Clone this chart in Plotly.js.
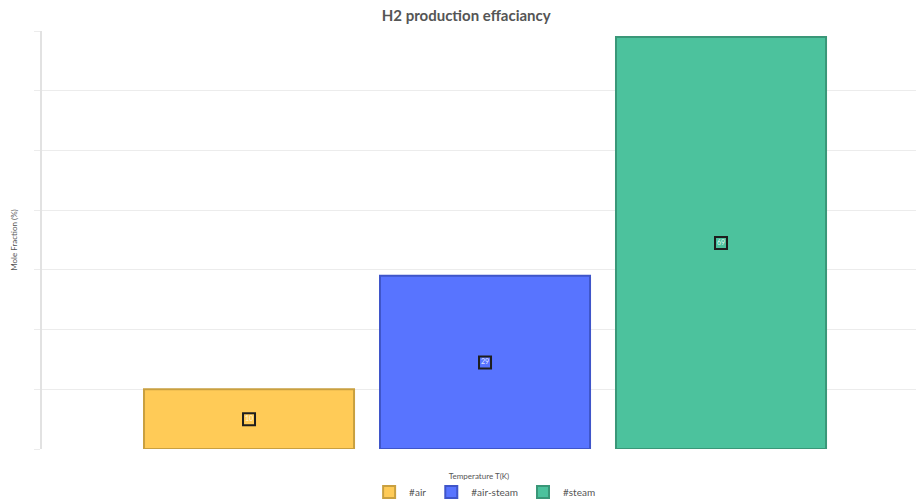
<!DOCTYPE html>
<html>
<head>
<meta charset="utf-8">
<script src="https://cdn.plot.ly/plotly-3.0.1.min.js"></script>
<style>html,body{margin:0;padding:0;background:#fff;}#chart{width:916px;height:502px;}</style>
</head>
<body>
<div id="chart"></div>
<script>
const category = ["Temperature T(K)"];
const seriesNames = ["#air", "#air-steam", "#steam"];
const seriesValues = [10, 29, 69];
const fillColors = ["#FFCB57", "#5874FF", "#4CC29D"];
const lineColors = ["#C9A040", "#3F55C9", "#3A9778"];

const traces = [];
seriesNames.forEach((name, i) => {
  traces.push({
    type: "bar",
    name: name,
    x: category,
    y: [seriesValues[i]],
    offsetgroup: String(i),
    marker: {color: fillColors[i], line: {color: lineColors[i], width: 2}},
    hoverinfo: "name+y"
  });
});
seriesNames.forEach((name, i) => {
  traces.push({
    type: "scatter",
    mode: "markers+text",
    name: name,
    showlegend: false,
    x: category,
    y: [seriesValues[i] / 2],
    offsetgroup: String(i),
    text: [String(seriesValues[i])],
    textposition: "middle center",
    textfont: {family: "Lato, sans-serif", size: 7, color: "rgba(255,255,255,0.85)"},
    marker: {symbol: "square", size: 12, color: fillColors[i], line: {color: "#1e1e1e", width: 2}},
    hoverinfo: "skip"
  });
});

const layout = {
  width: 916, height: 502,
  margin: {l: 42, r: 0, t: 31, b: 53, autoexpand: false},
  paper_bgcolor: "#fff", plot_bgcolor: "#fff",
  font: {family: "Lato, sans-serif", color: "#555"},
  title: {text: "<b>H2 production effaciancy</b>", font: {size: 15, color: "#555"}, x: 0.509, xref: "container", xanchor: "center", y: 0.968, yanchor: "middle"},
  barmode: "group",
  scattermode: "group",
  bargap: 0.2,
  scattergap: 0.2,
  bargroupgap: 0.11,
  showlegend: true,
  legend: {orientation: "h", x: 0.507, xanchor: "center", y: -0.068, yanchor: "top", font: {size: 10, color: "#555"}, traceorder: "normal", itemwidth: 30},
  xaxis: {
    type: "category",
    range: [-0.5006, 0.487],
    automargin: false,
    showticklabels: false,
    showgrid: false,
    zeroline: false,
    showline: false,
    ticks: "",
    title: {text: "Temperature T(K)", font: {size: 8, color: "#555"}, standoff: 24}
  },
  yaxis: {
    range: [0, 70],
    dtick: 10,
    automargin: false,
    showticklabels: false,
    showgrid: true,
    gridcolor: "#ececec",
    gridwidth: 1,
    zeroline: false,
    showline: true,
    linecolor: "#e2e2e2",
    linewidth: 2,
    ticks: "outside",
    ticklen: 6,
    tickcolor: "#ececec",
    title: {text: "Mole Fraction (%)", font: {size: 8, color: "#555"}, standoff: 15}
  }
};

Plotly.newPlot("chart", traces, layout, {displayModeBar: false, responsive: false});
</script>
</body>
</html>
